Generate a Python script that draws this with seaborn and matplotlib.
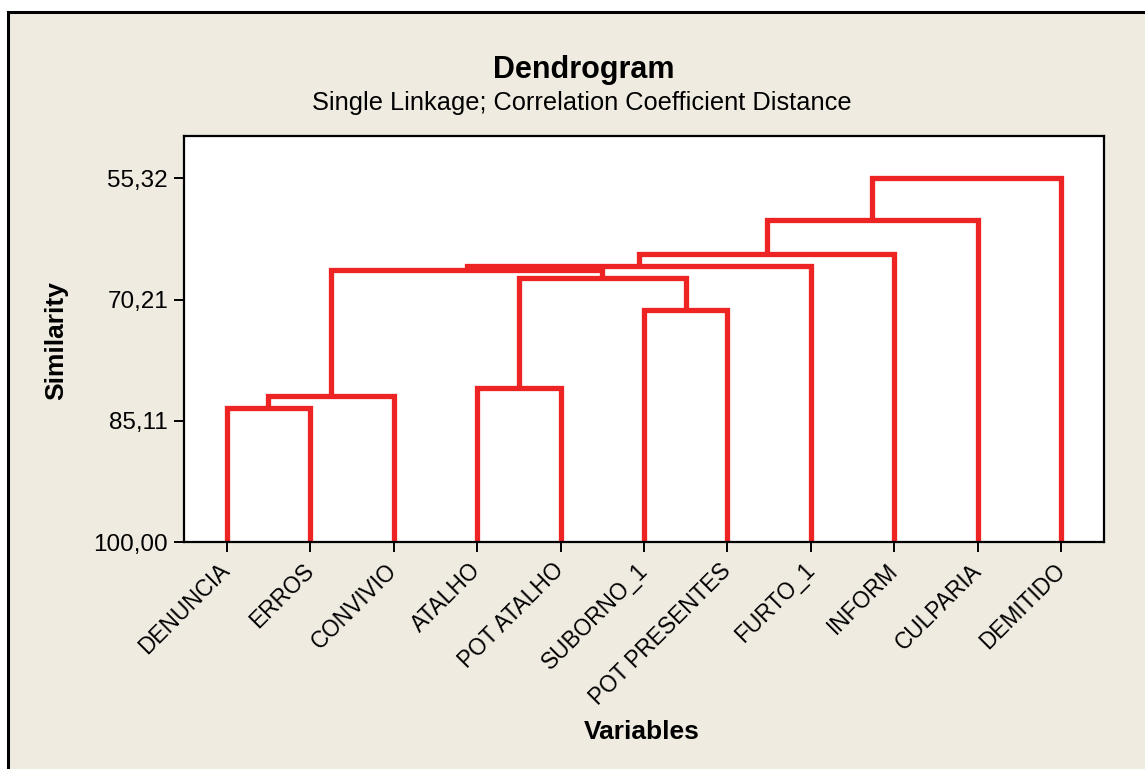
import matplotlib
matplotlib.use('Agg')
import matplotlib.pyplot as plt
import pandas as pd
import seaborn as sns
from matplotlib.patches import Rectangle

# Leaves (in dendrogram order) and single-linkage merges
labels = ['DENUNCIA', 'ERROS', 'CONVIVIO', 'ATALHO', 'POT ATALHO', 'SUBORNO_1',
          'POT PRESENTES', 'FURTO_1', 'INFORM', 'CULPARIA', 'DEMITIDO']
# each merge: (left cluster, right cluster, similarity); new clusters numbered 11, 12, ...
merge_left = [0, 11, 3, 5, 13, 12, 16, 17, 18, 19]
merge_right = [1, 2, 4, 6, 14, 15, 7, 8, 9, 10]
merge_sim = [83.50, 82.06, 81.04, 71.50, 67.57, 66.58, 66.09, 64.58, 60.40, 55.32]
yticks = [100.00, 85.11, 70.21, 55.32]

RED = '#EE2324'
BG = '#EFEBE1'

# build link segments (U shapes)
pos = {i: i + 1 for i in range(len(labels))}
height = {i: 100.0 for i in range(len(labels))}
rows = []
for k, (a, b, s) in enumerate(zip(merge_left, merge_right, merge_sim)):
    xs = [pos[a], pos[a], pos[b], pos[b]]
    ys = [height[a], s, s, height[b]]
    for j, (x, y) in enumerate(zip(xs, ys)):
        rows.append({'link': k, 'step': j, 'x': x, 'y': y})
    new = len(labels) + k
    pos[new] = (pos[a] + pos[b]) / 2
    height[new] = s
df = pd.DataFrame(rows)

sns.set_style('white')
plt.rcParams['font.family'] = ['Liberation Sans', 'DejaVu Sans']
plt.rcParams['text.color'] = 'black'
plt.rcParams['axes.labelcolor'] = 'black'
plt.rcParams['xtick.color'] = 'black'
plt.rcParams['ytick.color'] = 'black'

fig = plt.figure(figsize=(11.45, 7.69), dpi=100)
fig.patch.set_facecolor('white')
fig.patches.append(Rectangle((8 / 1145, -0.05), 1.2, 1.05 - 12 / 769,
                             transform=fig.transFigure, facecolor=BG,
                             edgecolor='black', linewidth=2.2, zorder=-1))

ax = fig.add_axes([184 / 1145, 1 - 542 / 769, (1104 - 184) / 1145, (542 - 136) / 769])
ax.set_facecolor('white')

sns.lineplot(data=df, x='x', y='y', units='link', estimator=None, sort=False,
             color=RED, linewidth=3.8, ax=ax, legend=False)
for line in ax.get_lines():
    line.set_solid_joinstyle('miter')
    line.set_solid_capstyle('butt')

ax.set_xlim(0.49, 11.51)
ax.set_ylim(100, 50.12)
ax.set_yticks(yticks)
ax.set_yticklabels([f'{v:.2f}'.replace('.', ',') for v in yticks], fontsize=17.5)
ax.set_xticks(range(1, len(labels) + 1))
ax.set_xticklabels(labels, rotation=45, ha='right', va='center',
                   rotation_mode='anchor', fontsize=16.3)
ax.tick_params(axis='both', direction='out', length=7.5, width=1.4, color='black',
               left=True, bottom=True)
ax.tick_params(axis='y', pad=4)
ax.tick_params(axis='x', pad=10.5)
for sp in ax.spines.values():
    sp.set_color('black')
    sp.set_linewidth(1.6)

ax.set_xlabel('Variables', fontsize=19, fontweight='bold', va='top')
ax.xaxis.set_label_coords((642 - 184) / 920, (542 - 720) / 406)
ax.set_ylabel('Similarity', fontsize=19, fontweight='bold')
ax.yaxis.set_label_coords((68 - 184) / 920, (542 - 341) / 406)

fig.text(583.5 / 1145, 1 - 78 / 769, 'Dendrogram', fontsize=22, fontweight='bold',
         ha='center', va='baseline')
fig.text(581.5 / 1145, 1 - 110 / 769, 'Single Linkage; Correlation Coefficient Distance',
         fontsize=18.3, ha='center', va='baseline')

fig.savefig('out.png', dpi=100, facecolor=fig.get_facecolor())
